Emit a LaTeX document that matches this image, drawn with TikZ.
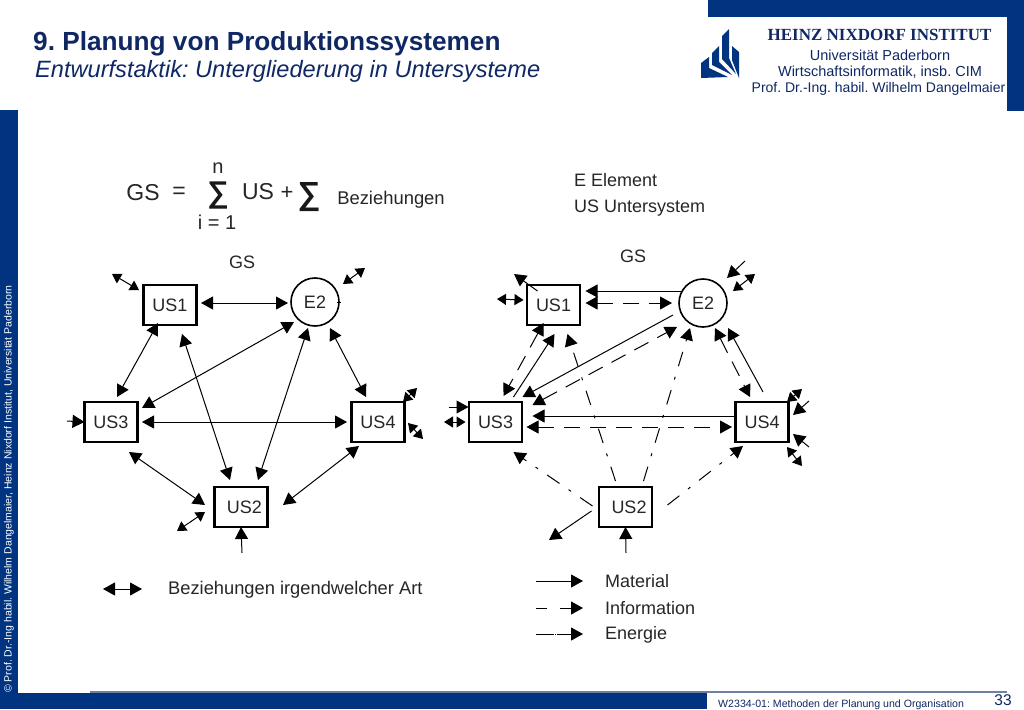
\documentclass[tikz,border=0pt]{standalone}
\usepackage{fontspec}
\setmainfont{Liberation Sans}
\newfontfamily\instfont{Liberation Serif}
\usepackage{xcolor}
\usetikzlibrary{arrows.meta,calc}
\frenchspacing
\definecolor{hnired}{RGB}{0,51,128}
\definecolor{hniline}{RGB}{112,128,165}
\definecolor{hnitext}{RGB}{15,40,100}
\tikzset{
	usbox/.style={draw, line width=2.5pt, minimum width=53pt, minimum height=40pt, inner sep=0pt, outer sep=0pt, font=\fontsize{18}{18}\selectfont, text=black!85},
	elcircle/.style={draw, circle, line width=1.6pt, minimum size=48pt, inner sep=0pt, outer sep=0pt, font=\fontsize{18}{18}\selectfont, text=black!85},
	plain/.style={inner sep=0pt, text=black!85, font=\fontsize{#1}{#1}\selectfont},
	plain/.default=18,
	sumsign/.style={inner sep=0pt, text=black!90, font=\fontsize{#1}{#1}\selectfont\bfseries},
	onetip/.style={line width=1pt, -{Triangle[length=12pt,width=13pt]}},
	twotip/.style={line width=1pt, {Triangle[length=12pt,width=13pt]}-{Triangle[length=12pt,width=13pt]}},
	shorttip/.style={line width=1pt, {Triangle[length=9pt,width=11pt]}-{Triangle[length=9pt,width=11pt]}},
	infoline/.style={dash pattern=on 16pt off 10pt},
	energyline/.style={dash pattern=on 15pt off 11pt on 3pt off 11pt}
}

\begin{document}
\begin{tikzpicture}[x=1pt,y=-1pt]
	\useasboundingbox (0,0) rectangle (1024,709);

	% Frame of the slide
	\fill[hnired] (708,0) rectangle (1024,17);
	\fill[hnired] (1007,0) rectangle (1024,111);
	\fill[hnired] (0,110) rectangle (18,709);
	\fill[hnired] (0,693) rectangle (707,709);
	\fill[hniline] (90,691) rectangle (1007,693);

	% University logo
	\fill[hnired] (701,63) -- (709,57) -- (709,68) -- (728,77) -- (701,78) -- cycle;
	\fill[hnired] (712,53) -- (719,46) -- (719,62) -- (732,75) -- (712,65) -- cycle;
	\fill[hnired] (722,36) -- (729,29) -- (729,58) -- (736,74) -- (722,59) -- cycle;
	\fill[hnired] (732,46) -- (739,52) -- (739,78) -- (732,60) -- cycle;

	% Header texts
	\node[anchor=west, inner sep=0pt, text=hnitext, font=\fontsize{26.2}{26.2}\selectfont\bfseries] (title) at (33,44) {9. Planung von Produktionssystemen};
	\node[anchor=west, inner sep=0pt, text=hnitext, font=\fontsize{23.6}{23.6}\selectfont\itshape] (subtitle) at (35,71) {Entwurfstaktik: Untergliederung in Untersysteme};
	\node[inner sep=0pt, text=hnitext, font=\fontsize{17}{17}\selectfont\instfont\bfseries] (inst) at (879.5,35) {HEINZ NIXDORF INSTITUT};
	\node[inner sep=0pt, text=hnitext, font=\fontsize{14.5}{14.5}\selectfont] (uni) at (880,55) {Universität Paderborn};
	\node[inner sep=0pt, text=hnitext, font=\fontsize{14.5}{14.5}\selectfont] (wi) at (880,72) {Wirtschaftsinformatik, insb. CIM};
	\node[inner sep=0pt, text=hnitext, font=\fontsize{14}{14}\selectfont] (prof) at (878.5,89) {Prof. Dr.-Ing. habil. Wilhelm Dangelmaier};

	% Footer and side texts
	\node[rotate=90, anchor=west, inner sep=0pt, text=white, font=\fontsize{10.5}{10.5}\selectfont] (copyr) at (9,693) {© Prof. Dr.-Ing habil. Wilhelm Dangelmaier, Heinz Nixdorf Institut, Universität Paderborn};
	\node[anchor=west, inner sep=0pt, text=hnitext, font=\fontsize{10.6}{10.6}\selectfont] (lecture) at (718,705) {W2334-01: Methoden der Planung und Organisation};
	\node[inner sep=0pt, text=hnitext, font=\fontsize{15.5}{15.5}\selectfont] (page) at (1003,700) {33};

	% Formula
	\node[plain=23] (gs) at (143,193) {GS};
	\node[plain=23] (eq) at (179,193) {=};
	\node[sumsign=30] (sumus) at (218,196) {∑};
	\node[plain=20] (upper) at (218,168) {n};
	\node[plain=20] (lower) at (217,222) {i = 1};
	\node[plain=23] (us) at (258,192) {US};
	\node[plain=22] (plus) at (287,193) {+};
	\node[sumsign=32] (sumbez) at (309,197) {∑};
	\node[plain=18.4] (bez) at (391,200) {Beziehungen};

	% Legend of element and subsystem
	\node[plain, anchor=west] (eelement) at (574,180) {E Element};
	\node[plain, anchor=west] (ussystem) at (574,208) {US Untersystem};

	% Left graph
	\node[plain] (gsl) at (242,262) {GS};
	\node[usbox] (us1l) at (170,305) {US1};
	\node[elcircle] (e2l) at (315,302) {E2};
	\node[usbox] (us3l) at (111,422) {\raisebox{-2pt}{US3}};
	\node[usbox] (us4l) at (378,422) {\raisebox{-2pt}{US4}};
	\node[usbox] (us2l) at (241,507) {\hspace{7pt}US2};

	\draw[twotip] ($(us1l)+(31,-2)$) -- ($(e2l)+(-27,1)$);
	\draw[twotip] ($(us1l)+(-12,18)$) -- ($(us3l)+(6,-25)$);
	\draw[twotip] ($(us3l)+(31,-14)$) -- ($(e2l)+(-21,20)$);
	\draw[twotip] ($(us1l)+(12,29)$) -- ($(us2l)+(-11,-27)$);
	\draw[twotip] ($(e2l)+(-7,26)$) -- ($(us2l)+(17,-27)$);
	\draw[twotip] ($(e2l)+(15,26)$) -- ($(us4l)+(-12,-25)$);
	\draw[twotip] ($(us3l)+(31,0)$) -- ($(us4l)+(-31,0)$);
	\draw[twotip] ($(us3l)+(18,30)$) -- ($(us2l)+(-36,-2)$);
	\draw[twotip] ($(us4l)+(-19,24)$) -- ($(us2l)+(42,-2)$);

	% Free ends of the left graph
	\coordinate (fl1) at (112,274);
	\coordinate (fl2) at (365,268);
	\coordinate (fl3) at (341,302);
	\coordinate (fl4) at (67,421);
	\coordinate (fl5) at (417,388);
	\coordinate (fl6) at (423,439);
	\coordinate (fl7) at (177,531);
	\coordinate (fl8) at (242,553);
	\draw[shorttip] ($(us1l)+(-31,-15)$) -- (fl1);
	\draw[shorttip] ($(e2l)+(28,-18)$) -- (fl2);
	\draw[line width=1pt] ($(e2l)+(22,0)$) -- (fl3);
	\draw[onetip] (fl4) -- (us3l.west);
	\draw[shorttip] ($(us4l)+(25,-20)$) -- (fl5);
	\draw[shorttip] ($(us4l)+(30,1)$) -- (fl6);
	\draw[shorttip] ($(us2l)+(-36,5)$) -- (fl7);
	\draw[onetip] (fl8) -- (us2l.south);

	% Legend of the left graph
	\coordinate (legla) at (103,589);
	\coordinate (leglb) at (142,589);
	\draw[twotip] (legla) -- (leglb);
	\node[plain=18.3, anchor=west] (legltext) at (168,590) {Beziehungen irgendwelcher Art};

	% Right graph
	\node[plain] (gsr) at (633,256) {GS};
	\node[usbox] (us1r) at (553.5,305) {US1\hspace{3pt}};
	\node[elcircle] (e2r) at (703,303) {E2};
	\node[usbox] (us3r) at (495.5,422) {\raisebox{-1pt}{US3}};
	\node[usbox] (us4r) at (762,422) {US4\hspace{6pt}};
	\node[usbox] (us2r) at (625.5,507) {\hspace{7pt}US2};

	% Material
	\draw[onetip] ($(e2r)+(-22,-12)$) -- ($(us1r)+(32,-14)$);
	\draw[onetip] ($(us3r)+(18,-25)$) -- ($(us1r)+(1,29)$);
	\draw[onetip] ($(e2r)+(-30,12)$) -- ($(us3r)+(27,-25)$);
	\draw[onetip] ($(us4r)+(1,-30)$) -- ($(e2r)+(25,25)$);
	\draw[onetip] ($(us4r)+(-28,-6)$) -- ($(us3r)+(37,-6)$);

	% Information
	\draw[twotip, infoline] ($(us1r)+(32,-2)$) -- ($(e2r)+(-31,0)$);
	\draw[twotip, infoline] ($(us1r)+(-10,18)$) -- ($(us3r)+(8,-26)$);
	\draw[twotip, infoline] ($(us3r)+(37,-17)$) -- ($(e2r)+(-26,24)$);
	\draw[twotip, infoline] ($(e2r)+(12,25)$) -- ($(us4r)+(-12,-25)$);
	\draw[twotip, infoline] ($(us3r)+(31,5)$) -- ($(us4r)+(-30,5)$);

	% Energy
	\draw[onetip, energyline] ($(us2r)+(-10,-26)$) -- ($(us1r)+(14,29)$);
	\draw[onetip, energyline] ($(us2r)+(18,-26)$) -- ($(e2r)+(-13,25)$);
	\draw[onetip, energyline] ($(us2r)+(-33,-1)$) -- ($(us3r)+(18,30)$);
	\draw[onetip, energyline] ($(us2r)+(42,-2)$) -- ($(us4r)+(-19,24)$);

	% Free ends of the right graph
	\coordinate (fr1) at (514,274);
	\coordinate (fr2) at (497,299);
	\coordinate (fr3) at (449,407);
	\coordinate (fr4) at (444,422);
	\coordinate (fr5) at (745,261);
	\coordinate (fr6) at (755,274);
	\coordinate (fr7) at (802,389);
	\coordinate (fr8) at (809,401);
	\coordinate (fr9) at (809,447);
	\coordinate (fr10) at (802,466);
	\coordinate (fr11) at (549,540);
	\coordinate (fr12) at (626,553);
	\draw[onetip] ($(us1r)+(-16,-14)$) -- (fr1);
	\draw[shorttip] (fr2) -- ($(us1r)+(-30,-5)$);
	\draw[onetip] (fr3) -- ($(us3r)+(-27,-15)$);
	\draw[shorttip] (fr4) -- ($(us3r)+(-30,0)$);
	\draw[onetip] (fr5) -- ($(e2r)+(24,-25)$);
	\draw[shorttip] (fr6) -- ($(e2r)+(30,-12)$);
	\draw[shorttip] (fr7) -- ($(us4r)+(25,-20)$);
	\draw[onetip] (fr8) -- ($(us4r)+(31,-7)$);
	\draw[onetip] (fr9) -- ($(us4r)+(31,12)$);
	\draw[shorttip] ($(us4r)+(25,25)$) -- (fr10);
	\draw[onetip] ($(us2r)+(-34,4)$) -- (fr11);
	\draw[onetip] (fr12) -- (us2r.south);

	% Legend of the right graph
	\coordinate (mata) at (536,581);
	\coordinate (matb) at (583,581);
	\coordinate (infa) at (536,608);
	\coordinate (infb) at (583,608);
	\coordinate (enea) at (536,634);
	\coordinate (eneb) at (583,634);
	\draw[onetip] (mata) -- (matb);
	\draw[onetip, dash pattern=on 11pt off 13pt] (infa) -- (infb);
	\draw[onetip, dash pattern=on 18pt off 1pt on 1pt off 1pt] (enea) -- (eneb);
	\node[plain, anchor=west] (mattext) at (605,581) {Material};
	\node[plain, anchor=west] (inftext) at (605,608) {Information};
	\node[plain, anchor=west] (enetext) at (605,635) {Energie};
\end{tikzpicture}
\end{document}
